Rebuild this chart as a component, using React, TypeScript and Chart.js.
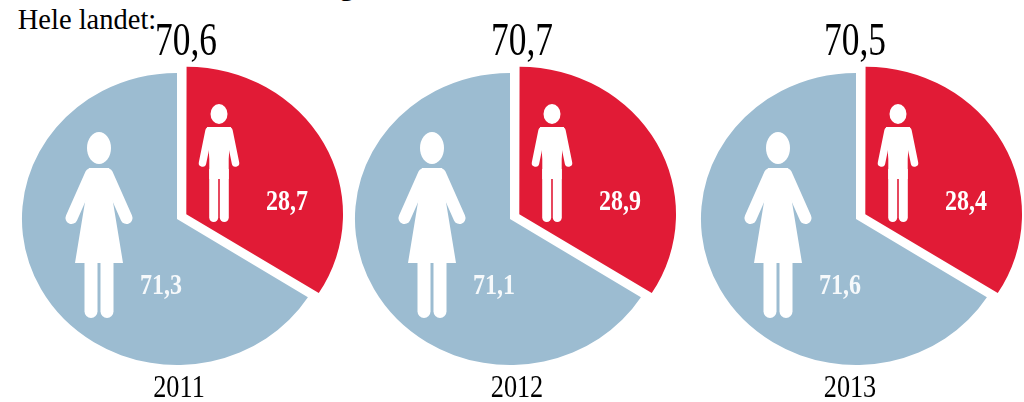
import React, { useEffect, useRef } from "react";
import { Chart, registerables } from "chart.js";

Chart.register(...registerables);

// Values as printed in the reference
const years = ["2011", "2012", "2013"];
const overall = ["70,6", "70,7", "70,5"];
const women = ["71,3", "71,1", "71,6"];
const men = ["28,7", "28,9", "28,4"];
// Slice sizes as actually drawn in the reference (the wedge is wider than its label says)
const drawnWomenShare = [66, 66, 66];
const drawnMenShare = [34, 34, 34];

// Layout
const W = 340;
const H = 320;
const CY = 219;
const centers = [177, 510, 856];
const overallX = [186, 522, 855];
const yearX = [179, 517, 850];
const RED = "#E11B36";
const BLUE = "#9CBCD1";
const STRETCH = 1.062;

function drawWoman(ctx: CanvasRenderingContext2D, x: number, y: number) {
  ctx.fillStyle = "#fff";
  ctx.strokeStyle = "#fff";
  ctx.beginPath();
  ctx.ellipse(x, y - 71, 12, 16, 0, 0, Math.PI * 2);
  ctx.fill();
  ctx.beginPath();
  ctx.moveTo(x - 10, y - 51);
  ctx.lineTo(x + 10, y - 51);
  ctx.lineTo(x + 14, y - 17);
  ctx.lineTo(x + 24, y + 44);
  ctx.lineTo(x - 24, y + 44);
  ctx.lineTo(x - 14, y - 17);
  ctx.closePath();
  ctx.fill();
  ctx.lineCap = "round";
  ctx.lineWidth = 12;
  for (const s of [-1, 1]) {
    ctx.beginPath();
    ctx.moveTo(x + s * 8, y - 45);
    ctx.lineTo(x + s * 27.5, y - 1);
    ctx.stroke();
  }
  for (const s of [-1, 1]) {
    const l = x + s * 8;
    ctx.beginPath();
    ctx.roundRect(l - 6.5, y + 40, 13, 59, [0, 0, 6.5, 6.5]);
    ctx.fill();
  }
}

function drawMan(ctx: CanvasRenderingContext2D, x: number, y: number) {
  ctx.fillStyle = "#fff";
  ctx.strokeStyle = "#fff";
  ctx.beginPath();
  ctx.ellipse(x, y - 105, 8.5, 10, 0, 0, Math.PI * 2);
  ctx.fill();
  ctx.beginPath();
  ctx.moveTo(x - 12, y - 92);
  ctx.lineTo(x + 12, y - 92);
  ctx.lineTo(x + 9.7, y - 60);
  ctx.lineTo(x + 9.7, y - 40);
  ctx.lineTo(x - 9.7, y - 40);
  ctx.lineTo(x - 9.7, y - 60);
  ctx.closePath();
  ctx.fill();
  ctx.lineCap = "round";
  ctx.lineWidth = 7.5;
  for (const s of [-1, 1]) {
    ctx.beginPath();
    ctx.moveTo(x + s * 10, y - 88);
    ctx.lineTo(x + s * 16.5, y - 56);
    ctx.stroke();
  }
  for (const s of [-1, 1]) {
    const l = x + s * 5.3;
    ctx.beginPath();
    ctx.roundRect(l - 4.5, y - 50, 9, 53, [0, 0, 4.5, 4.5]);
    ctx.fill();
  }
}

function Pie({ index }: { index: number }) {
  const ref = useRef<HTMLCanvasElement>(null);
  useEffect(() => {
    const cx = W / 2;
    const cy = H / 2;
    const chart = new Chart(ref.current!, {
      type: "pie",
      data: {
        labels: ["Menn", "Kvinner"],
        datasets: [
          {
            data: [drawnMenShare[index], drawnWomenShare[index]],
            backgroundColor: [RED, BLUE],
            borderWidth: 0,
            offset: [40, 0],
          },
        ],
      },
      options: {
        responsive: false,
        animation: false,
        radius: 146,
        layout: { padding: 0 },
        plugins: { legend: { display: false }, tooltip: { enabled: false } },
      },
      plugins: [
        {
          id: "stretch",
          beforeDatasetsDraw(c: Chart) {
            const ctx = c.ctx;
            ctx.save();
            ctx.translate(cx, cy);
            ctx.scale(STRETCH, 1);
            ctx.translate(-cx, -cy);
          },
          afterDatasetsDraw(c: Chart) {
            const ctx = c.ctx;
            ctx.restore();
            ctx.save();
            drawWoman(ctx, cx - 78, cy);
            drawMan(ctx, cx + 42, cy);
            ctx.restore();
          },
        },
      ],
    });
    return () => chart.destroy();
  }, [index]);
  return (
    <canvas
      ref={ref}
      width={W}
      height={H}
      style={{
        position: "absolute",
        left: centers[index] - W / 2,
        top: CY - H / 2,
        width: W,
        height: H,
      }}
    />
  );
}

function Label(props: {
  text: string;
  x: number;
  base: number;
  size: number;
  sx: number;
  bold?: boolean;
  color?: string;
}) {
  const { text, x, base, size, sx, bold, color } = props;
  const lh = size * 1.2;
  return (
    <div
      style={{
        position: "absolute",
        left: x - 100,
        width: 200,
        top: base - lh * 0.5 - size * 0.33,
        height: lh,
        lineHeight: `${lh}px`,
        textAlign: "center",
        fontFamily: "'Liberation Serif', serif",
        fontSize: size,
        fontWeight: bold ? 700 : 400,
        color: color ?? "#000",
        transform: `scaleX(${sx})`,
        whiteSpace: "nowrap",
      }}
    >
      {text}
    </div>
  );
}

export default function App() {
  useEffect(() => {
    document.body.style.margin = "0";
  }, []);
  return (
    <div
      style={{
        position: "relative",
        width: 1024,
        height: 402,
        overflow: "hidden",
        background: "#fff",
      }}
    >
      {years.map((_, i) => (
        <Pie key={i} index={i} />
      ))}
      <Label text="g" x={347} base={-5} size={30} sx={1} bold />
      <Label text="Hele landet:" x={87} base={30} size={28.5} sx={1} />
      {years.map((y, i) => (
        <React.Fragment key={y}>
          <Label text={overall[i]} x={overallX[i]} base={55} size={46} sx={0.77} />
          <Label text={y} x={yearX[i]} base={397} size={32} sx={0.82} />
          <Label text={women[i]} x={centers[i] - 16} base={294} size={30} sx={0.8} bold color="#f6f9fb" />
          <Label text={men[i]} x={centers[i] + 110} base={210} size={30} sx={0.8} bold color="#fff" />
        </React.Fragment>
      ))}
    </div>
  );
}
